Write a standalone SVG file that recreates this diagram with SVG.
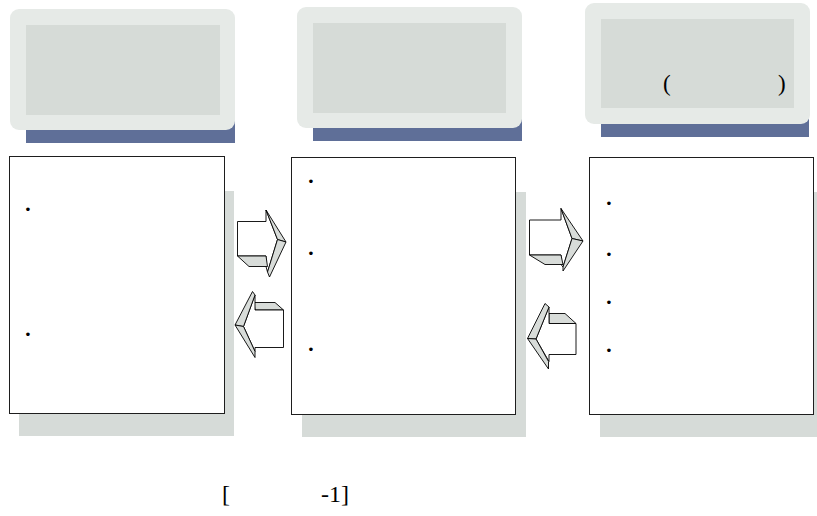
<svg xmlns="http://www.w3.org/2000/svg" width="817" height="516" viewBox="0 0 817 516">
<defs>
<style>
.outer{fill:#e6eae7}
.inner{fill:#d6dbd7}
.bar{fill:#5f6f98}
.shadow{fill:#d6dbd8}
.box{fill:#ffffff;stroke:#1e1e1e;stroke-width:1}
.af{fill:#ffffff;stroke:#000;stroke-width:0.9;stroke-linejoin:round}
.as{fill:#d8dcd9;stroke:#000;stroke-width:0.9;stroke-linejoin:round}
.t{font-family:"Liberation Serif","Times New Roman",serif;fill:#000}
.b{font-family:"Liberation Serif","Times New Roman",serif;font-size:22px;font-weight:bold;text-anchor:middle;fill:#000}
</style>
</defs>
<rect width="817" height="516" fill="#ffffff"/>

<g id="header1">
<rect class="bar" x="26" y="115" width="209" height="28"/>
<rect class="outer" x="10" y="9" width="225" height="121" rx="9"/>
<rect class="inner" x="26" y="25" width="194" height="90"/>
</g>
<g id="header2">
<rect class="bar" x="313" y="113" width="209" height="28"/>
<rect class="outer" x="297" y="7" width="225" height="121" rx="9"/>
<rect class="inner" x="313" y="23" width="193" height="90"/>
</g>
<g id="header3">
<rect class="bar" x="601" y="108" width="208" height="29"/>
<rect class="outer" x="585" y="3" width="225" height="121" rx="9"/>
<rect class="inner" x="601" y="19" width="193" height="89"/>
<text class="t" x="663" y="91" font-size="23">(</text>
<text class="t" x="778" y="91" font-size="23">)</text>
</g>

<g id="box1">
<rect class="shadow" x="19" y="191" width="215" height="245"/>
<rect class="box" x="9.5" y="156.5" width="215" height="257"/>
<text class="b" x="28" y="215.5">·</text>
<text class="b" x="28" y="340.5">·</text>
</g>
<g id="box2">
<rect class="shadow" x="302" y="192" width="224" height="245"/>
<rect class="box" x="291.5" y="157.5" width="224" height="257"/>
<text class="b" x="311" y="187.5">·</text>
<text class="b" x="311" y="259.5">·</text>
<text class="b" x="311" y="355.5">·</text>
</g>
<g id="box3">
<rect class="shadow" x="600" y="192" width="217" height="245"/>
<rect class="box" x="589.5" y="157.5" width="224" height="257"/>
<text class="b" x="609" y="209.5">·</text>
<text class="b" x="609" y="260.5">·</text>
<text class="b" x="609" y="308.5">·</text>
<text class="b" x="609" y="356.5">·</text>
</g>

<g id="connectors">
<g id="arrow-right-1">
<path class="af" d="M237.5,221.5 H266 V210 L277.5,239.5 L267.5,272 L266,266.5 V256 H237.5 Z"/>
<path class="as" d="M266,210 L286,242 L277.5,239.5 Z"/>
<path class="as" d="M277.5,239.5 L286,242 L269.5,277 L267.5,272 Z"/>
<path class="as" d="M237.5,256 L249,266.5 L267.5,266.5 L266,256 Z"/>
</g>
<g id="arrow-left-1">
<path class="as" d="M254,302.5 H275 L283.5,310 H255 Z"/>
<path class="af" d="M255,310 H283.5 V347.5 H255 V351.5 L243.5,326.5 L255,295 Z"/>
<path class="as" d="M252.5,291.5 L255,295 L243.5,326.5 L235,325 Z"/>
<path class="as" d="M235,325 L243.5,326.5 L255,351.5 L255,357.5 Z"/>
</g>
<g id="arrow-right-2">
<path class="af" d="M529.5,220 H561 V208.5 L572,238.5 L563,267 L561,264.5 V255 H529.5 Z"/>
<path class="as" d="M561,208.5 L583,241 L572,238.5 Z"/>
<path class="as" d="M572,238.5 L583,241 L563,271 L563,267 Z"/>
<path class="as" d="M529.5,255 L545,264.5 L563,264.5 L561,255 Z"/>
</g>
<g id="arrow-left-2">
<path class="as" d="M549,313.5 H565 L576,323.5 H549 Z"/>
<path class="af" d="M549,323.5 H576 V354.5 H549 V361.5 L536,339 L549,307 Z"/>
<path class="as" d="M545,303.5 L549,307 L536,339 L527.5,338.5 Z"/>
<path class="as" d="M527.5,338.5 L536,339 L548.5,361.5 L548.5,369 Z"/>
</g>
</g>

<g id="caption">
<text class="t" x="222" y="502" font-size="24">[</text>
<text class="t" x="321" y="502" font-size="24">-1]</text>
</g>
</svg>
